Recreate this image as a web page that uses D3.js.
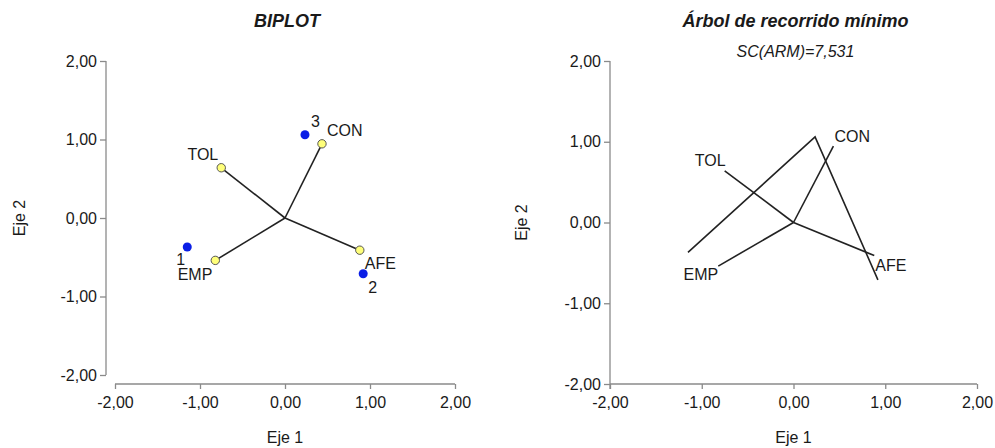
<!DOCTYPE html>
<html><head><meta charset="utf-8">
<script src="https://cdn.jsdelivr.net/npm/d3@7"></script>
<style>
body{margin:0;background:#fff;}
svg text{font-family:"Liberation Sans",Arial,sans-serif;fill:#1a1a1a;}
</style></head>
<body><svg id="c" width="995" height="448"></svg>
<script>
// ---- data ----
const caseLabels = ["1","2","3"];
const caseX = [-1.15, 0.92, 0.235];
const caseY = [-0.37, -0.71, 1.06];
const varLabels = ["TOL","CON","EMP","AFE"];
const varX = [-0.75, 0.435, -0.82, 0.88];
const varY = [0.64, 0.945, -0.54, -0.41];
const mstPath = ["1","3","2"];
const tickValues = [-2, -1, 0, 1, 2];
const titles = ["BIPLOT", "Árbol de recorrido mínimo"];
const subtitle = "SC(ARM)=7,531";
const axisTitles = ["Eje 1", "Eje 2"];

const cases = caseLabels.map((l,i)=>({label:l, x:caseX[i], y:caseY[i]}));
const vars = varLabels.map((l,i)=>({label:l, x:varX[i], y:varY[i]}));
const fmt = v => d3.format(".2f")(v).replace(".", ",").replace("−","-");

const svg = d3.select("#c");

// label placement (style)
const leftOff = {
  "3":{dx:6,dy:-8,a:"start"}, "CON":{dx:5,dy:-8,a:"start"}, "TOL":{dx:-3,dy:-8,a:"end"},
  "1":{dx:-11,dy:18,a:"start"}, "EMP":{dx:-3,dy:20,a:"end"}, "AFE":{dx:5,dy:19,a:"start"},
  "2":{dx:5,dy:19,a:"start"}
};
const rightOff = {
  "TOL":{dx:1,dy:-5,a:"end"}, "CON":{dx:1,dy:-4,a:"start"},
  "EMP":{dx:0,dy:14,a:"end"}, "AFE":{dx:1,dy:15,a:"start"}
};

function axes(g, x, y, xAxisY, yAxisX, cx) {
  const yAx = g.append("g").attr("transform",`translate(${yAxisX},0)`)
    .call(d3.axisLeft(y).tickValues(tickValues).tickFormat(fmt).tickSize(6).tickPadding(3));
  const xAx = g.append("g").attr("transform",`translate(0,${xAxisY})`)
    .call(d3.axisBottom(x).tickValues(tickValues).tickFormat(fmt).tickSize(5).tickPadding(8));
  [yAx,xAx].forEach(a=>{
    a.selectAll("path,line").attr("stroke","#8a8a8a").attr("stroke-width",1.3);
    a.selectAll("text").attr("font-size",16).attr("fill","#1a1a1a")
      .style("font-family","'Liberation Sans',Arial,sans-serif");
  });
  xAx.select("path").attr("d",`M${x.range()[0]},0H${x.range()[1]}`);
  yAx.select("path").attr("d",`M0,${y.range()[0]}V${y.range()[1]}`);
  g.append("text").attr("x",cx).attr("y",442.5).attr("text-anchor","middle")
    .attr("font-size",16).text(axisTitles[0]);
  const my = (y.range()[0]+y.range()[1])/2;
  return {yAx, xAx, my};
}

// ---- left panel: biplot ----
{
  const g = svg.append("g");
  const x = d3.scaleLinear().domain([-2,2]).range([115,455]);
  const y = d3.scaleLinear().domain([-2,2]).range([375,61]);
  const {my} = axes(g, x, y, 384, 106, x(0));
  g.append("text").attr("transform",`translate(25,${my}) rotate(-90)`)
    .attr("text-anchor","middle").attr("font-size",16).text(axisTitles[1]);
  g.append("text").attr("x",x(0)+2).attr("y",27).attr("text-anchor","middle")
    .attr("font-size",18).attr("font-weight","bold").attr("font-style","italic").text(titles[0]);

  g.selectAll("line.v").data(vars).join("line").attr("class","v")
    .attr("x1",x(0)).attr("y1",y(0)).attr("x2",d=>x(d.x)).attr("y2",d=>y(d.y))
    .attr("stroke","#222").attr("stroke-width",1.6);
  g.selectAll("circle.v").data(vars).join("circle").attr("class","v")
    .attr("cx",d=>x(d.x)).attr("cy",d=>y(d.y)).attr("r",4.2)
    .attr("fill","#ffff7a").attr("stroke","#555").attr("stroke-width",1);
  g.selectAll("circle.c").data(cases).join("circle").attr("class","c")
    .attr("cx",d=>x(d.x)).attr("cy",d=>y(d.y)).attr("r",4.5)
    .attr("fill","#0a1ee6");
  g.selectAll("text.l").data([...vars,...cases]).join("text").attr("class","l")
    .attr("x",d=>x(d.x)+leftOff[d.label].dx).attr("y",d=>y(d.y)+leftOff[d.label].dy)
    .attr("text-anchor",d=>leftOff[d.label].a).attr("font-size",16).text(d=>d.label);
}

// ---- right panel: minimum spanning tree ----
{
  const g = svg.append("g");
  const x = d3.scaleLinear().domain([-2,2]).range([610,977]);
  const y = d3.scaleLinear().domain([-2,2]).range([384,61]);
  const {yAx, my} = axes(g, x, y, 384, 610, x(0));
  yAx.select("path").attr("d",`M0,${y.range()[0]+5}V${y.range()[1]}`);
  g.append("text").attr("transform",`translate(527,${my}) rotate(-90)`)
    .attr("text-anchor","middle").attr("font-size",16).text(axisTitles[1]);
  g.append("text").attr("x",x(0)+2).attr("y",27).attr("text-anchor","middle")
    .attr("font-size",18).attr("font-weight","bold").attr("font-style","italic").text(titles[1]);
  g.append("text").attr("x",x(0)+2).attr("y",57).attr("text-anchor","middle")
    .attr("font-size",16).attr("font-style","italic").text(subtitle);

  const byLabel = Object.fromEntries(cases.map(d=>[d.label,d]));
  g.append("path").datum(mstPath.map(l=>byLabel[l]))
    .attr("d", d3.line().x(d=>x(d.x)).y(d=>y(d.y)))
    .attr("fill","none").attr("stroke","#222").attr("stroke-width",1.6);
  g.selectAll("line.v").data(vars).join("line").attr("class","v")
    .attr("x1",x(0)).attr("y1",y(0)).attr("x2",d=>x(d.x)).attr("y2",d=>y(d.y))
    .attr("stroke","#222").attr("stroke-width",1.6);
  g.selectAll("text.l").data(vars).join("text").attr("class","l")
    .attr("x",d=>x(d.x)+rightOff[d.label].dx).attr("y",d=>y(d.y)+rightOff[d.label].dy)
    .attr("text-anchor",d=>rightOff[d.label].a).attr("font-size",16).text(d=>d.label);
}
</script></body></html>
